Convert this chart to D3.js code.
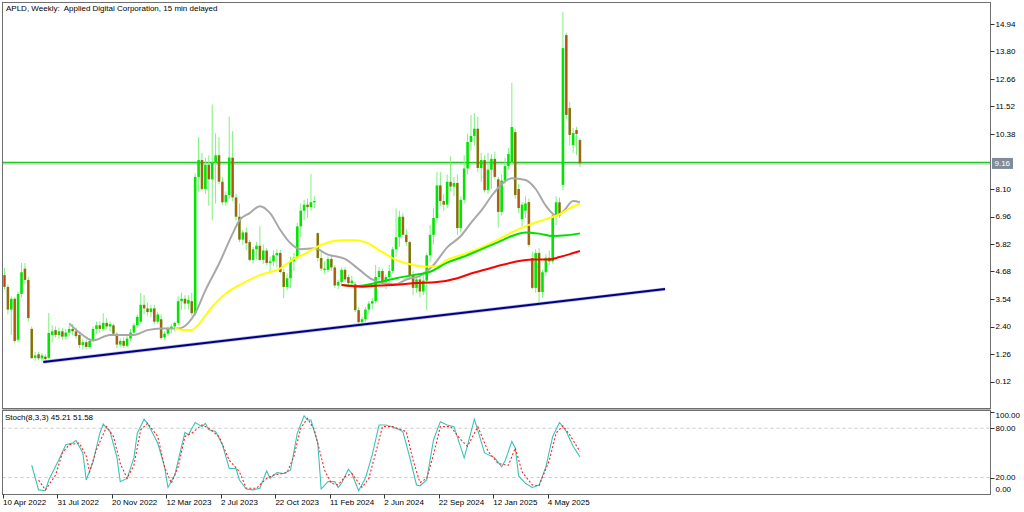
<!DOCTYPE html>
<html><head><meta charset="utf-8">
<script src="https://cdn.jsdelivr.net/npm/d3@7"></script>
<style>
body{margin:0;background:#fff}
svg{display:block}
text{font-family:"Liberation Sans",Arial,sans-serif;font-size:8px;fill:#000}
</style>
</head><body>
<svg id="c" width="1024" height="512"></svg>
<script>
// ---- weekly OHLC, APLD, from week of 10 Apr 2022 ----
const opens = [4.53,4.04,3.10,3.55,1.85,3.75,4.80,4.33,2.30,1.10,1.25,1.08,1.15,1.10,2.05,2.25,2.05,2.20,1.98,2.15,
2.30,2.20,2.05,1.63,1.75,1.55,1.80,2.30,2.45,2.30,2.55,2.40,2.45,2.10,1.65,1.80,1.60,1.90,2.15,2.45,
2.60,3.30,3.15,3.00,3.15,2.60,2.70,1.95,2.10,2.30,2.40,2.55,3.45,3.55,3.35,3.45,2.95,8.60,9.30,8.10,
9.10,8.50,9.20,9.50,8.40,7.55,7.85,9.40,7.75,6.95,6.00,6.30,5.90,5.16,5.60,5.75,5.16,5.55,5.03,5.10,
5.35,5.45,4.66,4.04,4.40,5.10,5.25,6.55,7.20,7.45,7.35,7.55,6.27,5.24,4.80,4.75,5.20,4.85,4.10,4.25,
4.75,4.45,4.20,4.15,3.08,2.58,2.70,3.10,3.35,3.45,4.45,4.70,4.25,4.45,4.70,5.60,6.10,6.95,6.20,5.90,
4.53,4.00,4.35,3.85,4.30,5.35,6.20,6.90,8.25,7.60,7.45,8.40,8.20,8.35,6.48,7.65,8.95,10.05,10.30,10.60,
8.97,9.30,8.05,8.90,9.35,8.50,7.15,8.45,9.05,9.22,10.46,8.10,6.85,7.20,7.56,5.24,4.00,5.45,3.83,4.65,
5.25,5.10,7.00,7.55,8.27,14.48,11.46,9.92,10.55,10.13];
const highs = [4.82,4.15,3.65,3.62,3.85,5.03,5.03,4.45,2.40,1.35,1.35,1.30,1.25,2.96,2.45,2.40,2.35,2.35,2.30,2.45,
2.50,2.35,2.15,1.90,1.85,1.90,2.40,2.60,2.60,2.95,2.75,2.60,2.50,2.15,1.90,1.95,2.00,2.30,2.55,2.90,
3.79,3.70,3.40,3.30,3.30,3.00,2.90,2.20,2.40,2.50,2.60,3.65,3.80,3.70,3.70,3.80,8.75,10.25,9.60,9.40,
9.50,11.60,10.40,10.25,8.60,8.00,11.10,10.50,7.90,7.50,6.40,6.50,6.00,5.70,5.90,6.55,5.80,5.65,5.30,5.55,
5.60,5.57,4.80,4.60,5.30,5.45,6.70,7.50,7.65,7.70,8.72,7.80,6.30,5.50,5.10,5.30,5.35,4.95,4.35,4.85,
4.85,4.55,4.50,4.25,3.20,2.80,3.20,3.45,3.60,4.95,4.85,4.80,4.55,4.95,5.70,7.30,7.20,7.10,6.45,5.95,
4.70,4.45,4.50,4.60,5.45,6.60,7.30,8.80,8.80,7.90,8.70,9.45,8.60,8.70,7.80,9.50,10.40,11.17,11.25,11.10,
9.60,9.50,9.60,9.55,9.65,8.60,8.70,9.40,9.80,12.50,10.60,8.30,7.55,7.80,7.70,5.50,5.60,5.65,4.75,5.40,
5.55,7.10,7.80,7.75,15.44,14.57,11.70,10.63,10.68,10.20];
const lows = [3.95,2.90,2.05,1.70,1.75,3.60,4.20,2.60,1.05,0.98,1.00,0.95,0.90,1.05,1.75,1.95,1.90,1.85,1.85,2.00,
2.05,1.90,1.50,1.45,1.45,1.50,1.75,2.10,2.15,2.20,2.30,2.20,2.05,1.50,1.55,1.50,1.55,1.80,2.05,2.35,
2.50,2.90,2.85,2.80,2.50,2.50,1.85,1.85,2.00,2.10,2.20,2.45,3.10,3.10,3.10,2.85,2.85,8.00,8.00,7.90,
7.40,6.80,7.50,8.30,7.45,7.40,7.70,7.60,6.80,5.90,5.80,5.57,5.10,5.00,5.20,5.10,5.00,4.95,4.70,4.90,
4.85,4.60,3.58,3.90,4.00,4.70,5.20,6.10,6.80,6.90,7.20,7.30,5.10,4.70,4.60,4.65,4.70,4.00,3.95,4.15,
4.25,4.10,4.05,3.00,2.42,2.40,2.60,2.95,3.10,3.35,4.20,4.15,3.95,4.20,4.60,5.30,5.70,6.10,5.75,4.40,
3.70,3.80,3.60,3.70,3.08,5.05,5.80,6.70,7.40,7.20,7.30,8.00,7.80,6.20,6.30,7.50,8.70,9.70,9.90,8.80,
8.40,7.95,7.90,8.10,8.50,6.50,7.00,8.30,8.90,9.10,7.70,7.10,6.55,6.90,5.70,3.95,3.80,3.40,3.60,4.50,
4.95,5.00,6.60,6.90,8.05,11.00,9.90,9.59,9.51,9.01];
const closes = [4.04,3.10,3.55,1.80,3.75,4.65,4.33,2.75,1.09,1.20,1.08,1.20,1.05,2.13,2.20,2.05,2.20,1.98,2.15,2.30,
2.20,2.00,1.63,1.75,1.55,1.80,2.30,2.45,2.30,2.55,2.40,2.50,2.10,1.65,1.80,1.60,1.90,2.15,2.45,2.80,
3.30,3.15,3.00,3.15,2.60,2.90,1.92,2.10,2.30,2.40,2.55,3.45,3.55,3.35,3.50,2.95,8.60,9.30,8.10,9.10,
8.50,9.20,9.50,8.40,7.55,7.85,9.40,7.75,6.95,6.00,6.30,5.85,5.16,5.60,5.75,5.16,5.55,5.03,5.10,5.35,
5.45,4.66,4.04,4.40,5.10,5.25,6.55,7.20,7.45,7.35,7.55,7.60,5.24,4.80,4.75,5.20,4.85,4.10,4.25,4.75,
4.35,4.20,4.30,3.08,2.58,2.70,3.10,3.35,3.45,4.45,4.70,4.25,4.45,4.70,5.60,6.10,6.95,6.20,5.90,4.53,
4.00,4.35,3.85,4.30,5.35,6.20,6.90,8.25,7.60,7.45,8.40,8.20,8.35,6.48,7.65,8.95,10.05,10.30,10.60,8.97,
9.30,8.05,8.90,9.35,8.60,7.15,8.45,9.05,9.55,10.67,7.85,7.31,7.45,7.50,5.78,4.00,5.45,3.83,4.65,5.25,
5.10,7.00,7.55,7.00,13.94,11.17,10.34,10.42,10.38,9.16];

// ---- moving averages: [bar index, value] ----
const maGray = [[19,2.53],[22,2.15],[26,1.82],[31,2.05],[38,2.05],[42,2.25],[46,2.32],[51,2.32],[54,2.55],[56,2.95],
[59,3.9],[63,5.0],[67,6.25],[69,6.8],[72,7.1],[75,7.39],[78,7.1],[81,6.4],[84,5.85],[87,5.6],[91,5.64],[95,5.38],
[100,5.2],[104,4.78],[108,4.35],[111,4.2],[115,4.15],[118,4.35],[122,4.5],[126,4.95],[130,5.68],[134,6.15],[137,6.7],
[140,7.2],[143,7.8],[146,8.3],[149,8.55],[153,8.47],[156,8.1],[159,7.4],[162,7.0],[164,7.15],[167,7.6],[169,7.55]];
const maYellow = [[50,2.32],[53,2.25],[55,2.25],[57,2.5],[61,3.22],[65,3.77],[69,4.12],[75,4.53],[81,4.81],[85,5.2],
[88,5.4],[91,5.64],[96,5.92],[100,5.98],[103,5.98],[106,5.9],[110,5.57],[115,5.16],[120,4.95],[124,4.88],[127,4.9],
[130,5.16],[135,5.4],[140,5.67],[145,6.0],[149,6.3],[154,6.61],[159,6.85],[163,7.05],[166,7.3],[169,7.5]];
const maGreen = [[99,4.12],[104,4.08],[109,4.2],[115,4.4],[120,4.53],[125,4.67],[130,5.05],[135,5.3],[140,5.6],
[145,5.9],[149,6.15],[153,6.3],[157,6.25],[161,6.15],[165,6.18],[169,6.26]];
const maRed = [[99,4.12],[105,4.05],[110,4.1],[115,4.13],[120,4.19],[127,4.24],[133,4.4],[137,4.6],[141,4.75],
[146,4.95],[150,5.08],[155,5.18],[160,5.18],[163,5.28],[166,5.4],[169,5.53]];

// ---- trend line (anchor bar, price) and horizontal level ----
const trendLine = [[11.4,0.93],[194,3.95]];
const levelPrice = 9.16;

// ---- stochastic (8,3,3) ----
const stochMain = [[8,35],[10,5],[12,4],[13,17],[16,42],[18,60],[20,62],[21,65],[23,50],[24,17],[26,39],[28,74],[29,85],
[31,76],[33,45],[34,15],[36,19],[38,44],[39,74],[41,91],[42,86],[45,62],[47,33],[48,8],[50,23],[52,58],[53,75],[54,72],
[56,87],[58,82],[59,86],[60,78],[62,76],[64,60],[66,31],[68,31],[69,17],[71,6],[73,5],[75,7],[77,28],[78,19],[80,26],
[82,25],[84,29],[86,74],[88,95],[89,90],[90,90],[92,62],[93,6],[95,15],[97,15],[98,8],[99,13],[101,30],[102,25],[104,4],
[106,19],[108,48],[110,84],[112,84],[115,80],[117,76],[119,45],[121,11],[122,10],[124,17],[126,66],[128,88],[130,84],
[132,82],[135,44],[138,91],[141,50],[144,44],[146,33],[147,40],[149,64],[150,56],[151,22],[153,13],[155,8],[157,11],
[159,33],[161,70],[163,87],[165,76],[167,58],[169,45.21]];
const stochSignal = [[10,17],[12,5],[15,23],[17,50],[19,60],[22,62],[24,46],[25,27],[27,54],[30,82],[32,70],[34,37],
[36,19],[38,35],[40,78],[42,86],[45,70],[47,33],[49,13],[51,33],[53,70],[55,74],[58,84],[60,80],[63,70],[66,41],[69,27],
[71,7],[74,7],[77,19],[79,23],[83,26],[85,46],[87,80],[89,92],[91,78],[94,29],[96,13],[98,11],[100,21],[102,25],[105,8],
[107,19],[109,50],[111,82],[114,82],[118,76],[120,41],[122,14],[124,19],[126,48],[128,82],[131,82],[134,66],[136,58],
[139,82],[142,52],[145,37],[148,35],[150,56],[152,27],[155,11],[157,10],[160,41],[162,74],[164,83],[166,72],[169,51.58]];
const stochLevels = [80, 20];

// ---- axis labels ----
const priceTicks = [14.94,13.80,12.66,11.52,10.38,8.10,6.96,5.82,4.68,3.54,2.40,1.26,0.12];
const stochTicks = [100,80,20,0];
const dateTickBars = [0,16,32,48,64,80,96,112,128,144,160];
const dateLabels = ["10 Apr 2022","31 Jul 2022","20 Nov 2022","12 Mar 2023","2 Jul 2023","22 Oct 2023",
"11 Feb 2024","2 Jun 2024","22 Sep 2024","12 Jan 2025","4 May 2025"];
const titleText = "APLD, Weekly:  Applied Digital Corporation, 15 min delayed";
const stochTitle = "Stoch(8,3,3) 45.21 51.58";

// ================= drawing =================
const svg = d3.select('#c');
const W = 1024, plotL = 2.5, plotR = 990.5, mainT = 2.5, mainB = 408.5, stT = 410.5, stB = 494.5;
const N = closes.length;
const x = d3.scaleLinear().domain([0, N - 1]).range([4.5, 4.5 + (N - 1) * 3.405]);
const yP = d3.scaleLinear().domain([0.12, 14.94]).range([381.5, 24]);
const yS = d3.scaleLinear().domain([0, 100]).range([494, 411.8]);

svg.append('rect').attr('width', W).attr('height', 512).attr('fill', '#fff');

const defs = svg.append('defs');
defs.append('clipPath').attr('id', 'cm').append('rect')
  .attr('x', plotL).attr('y', mainT).attr('width', plotR - plotL).attr('height', mainB - mainT);
defs.append('clipPath').attr('id', 'cs').append('rect')
  .attr('x', plotL).attr('y', stT).attr('width', plotR - plotL).attr('height', stB - stT);

const gm = svg.append('g').attr('clip-path', 'url(#cm)');
const bars = d3.range(N).map(i => ({ i, o: opens[i], h: highs[i], l: lows[i], c: closes[i] }));

// horizontal level (under candles)
const yl = Math.floor(yP(levelPrice)) - 0.5;
gm.append('line').attr('x1', plotL).attr('x2', plotR)
  .attr('y1', yl + 1.5).attr('y2', yl + 1.5)
  .attr('stroke', '#c4c4c4').attr('stroke-width', 1);
gm.append('line').attr('x1', plotL).attr('x2', plotR)
  .attr('y1', yl).attr('y2', yl)
  .attr('stroke', '#1ec81e').attr('stroke-width', 1.5);

// wicks
gm.selectAll('line.wick').data(bars).join('line').attr('class', 'wick')
  .attr('x1', d => x(d.i)).attr('x2', d => x(d.i))
  .attr('y1', d => yP(d.h)).attr('y2', d => yP(d.l))
  .attr('stroke', '#7ff07f').attr('stroke-width', 1);
// bodies
gm.selectAll('rect.body').data(bars).join('rect').attr('class', 'body')
  .attr('x', d => x(d.i) - 1.3).attr('width', 2.6)
  .attr('y', d => yP(Math.max(d.o, d.c)))
  .attr('height', d => Math.max(1, Math.abs(yP(d.o) - yP(d.c))))
  .attr('fill', d => d.c >= d.o ? '#00e600' : '#7f8414');
gm.selectAll('line.bear').data(bars.filter(d => d.c < d.o)).join('line').attr('class', 'bear')
  .attr('x1', d => x(d.i)).attr('x2', d => x(d.i))
  .attr('y1', d => yP(d.o) + 0.5).attr('y2', d => yP(d.c) - 0.5)
  .attr('stroke', '#d83010').attr('stroke-width', 0.7);

// moving averages
const maLine = d3.line().x(d => x(d[0])).y(d => yP(d[1])).curve(d3.curveMonotoneX);
[[maGray, '#a8a8a8'], [maYellow, '#ffff00'], [maGreen, '#00e000'], [maRed, '#ff0000']].forEach(([data, col]) => {
  gm.append('path').attr('d', maLine(data)).attr('fill', 'none')
    .attr('stroke', col).attr('stroke-width', 2).attr('stroke-linejoin', 'round');
});

// trend line
gm.append('line')
  .attr('x1', x(trendLine[0][0])).attr('y1', yP(trendLine[0][1]))
  .attr('x2', x(trendLine[1][0])).attr('y2', yP(trendLine[1][1]))
  .attr('stroke', '#b8b8e8').attr('stroke-width', 3.4);
gm.append('line')
  .attr('x1', x(trendLine[0][0])).attr('y1', yP(trendLine[0][1]))
  .attr('x2', x(trendLine[1][0])).attr('y2', yP(trendLine[1][1]))
  .attr('stroke', '#000080').attr('stroke-width', 2);

// ---- stochastic panel ----
const gs = svg.append('g').attr('clip-path', 'url(#cs)');
gs.selectAll('line.lvl').data(stochLevels).join('line').attr('class', 'lvl')
  .attr('x1', plotL).attr('x2', plotR).attr('y1', d => yS(d)).attr('y2', d => yS(d))
  .attr('stroke', '#c8c8c8').attr('stroke-width', 1).attr('stroke-dasharray', '3,3');
const stLine = d3.line().x(d => x(d[0])).y(d => yS(d[1]));
gs.append('path').attr('d', stLine(stochMain)).attr('fill', 'none')
  .attr('stroke', '#3cc3b8').attr('stroke-width', 1.1);
gs.append('path').attr('d', stLine(stochSignal)).attr('fill', 'none')
  .attr('stroke', '#ff2020').attr('stroke-width', 1.1).attr('stroke-dasharray', '2,2');

// ---- frames ----
svg.append('rect').attr('x', plotL).attr('y', mainT).attr('width', plotR - plotL).attr('height', mainB - mainT)
  .attr('fill', 'none').attr('stroke', '#6e6e6e');
svg.append('line').attr('x1', plotL).attr('x2', plotR).attr('y1', 409.5).attr('y2', 409.5)
  .attr('stroke', '#b4b4b4').attr('stroke-width', 1);
svg.append('rect').attr('x', plotL).attr('y', stT).attr('width', plotR - plotL).attr('height', stB - stT)
  .attr('fill', 'none').attr('stroke', '#6e6e6e');

// ---- price axis ----
const pa = svg.append('g');
pa.selectAll('line').data(priceTicks).join('line')
  .attr('x1', plotR).attr('x2', plotR + 4).attr('y1', d => Math.round(yP(d)) + 0.5).attr('y2', d => Math.round(yP(d)) + 0.5)
  .attr('stroke', '#333');
pa.selectAll('text').data(priceTicks).join('text')
  .attr('x', plotR + 5).attr('y', d => yP(d)).attr('dy', '0.35em')
  .text(d => d.toFixed(2));
// current price box
const yb = yP(levelPrice);
svg.append('rect').attr('x', 992).attr('y', yb - 5.5).attr('width', 21).attr('height', 11).attr('fill', '#7f8d9b');
svg.append('text').attr('x', 994.5).attr('y', yb).attr('dy', '0.35em').style('fill', '#fff').text(levelPrice.toFixed(2));

// ---- stoch axis ----
const stLabelY = { 100: 415, 80: yS(80), 20: yS(20), 0: 489 };
const sa = svg.append('g');
sa.selectAll('line').data([100, 80, 20]).join('line')
  .attr('x1', plotR).attr('x2', plotR + 4).attr('y1', d => Math.round(yS(d)) + 0.5).attr('y2', d => Math.round(yS(d)) + 0.5)
  .attr('stroke', '#333');
sa.selectAll('text').data(stochTicks).join('text')
  .attr('x', plotR + 5).attr('y', d => stLabelY[d]).attr('dy', '0.35em')
  .text(d => d.toFixed(2));

// ---- time axis ----
const ta = svg.append('g');
ta.selectAll('line').data(dateTickBars).join('line')
  .attr('x1', d => Math.round(x(d) - 1.5) + 0.5).attr('x2', d => Math.round(x(d) - 1.5) + 0.5)
  .attr('y1', stB).attr('y2', stB + 4).attr('stroke', '#333');
ta.selectAll('text').data(dateTickBars).join('text')
  .attr('x', d => x(d) - 1.5).attr('y', 505)
  .text((d, k) => dateLabels[k]);

// ---- titles ----
svg.append('text').attr('x', 6).attr('y', 10.5).style('white-space', 'pre').text(titleText);
svg.append('text').attr('x', 5).attr('y', 420).text(stochTitle);
</script>
</body></html>
